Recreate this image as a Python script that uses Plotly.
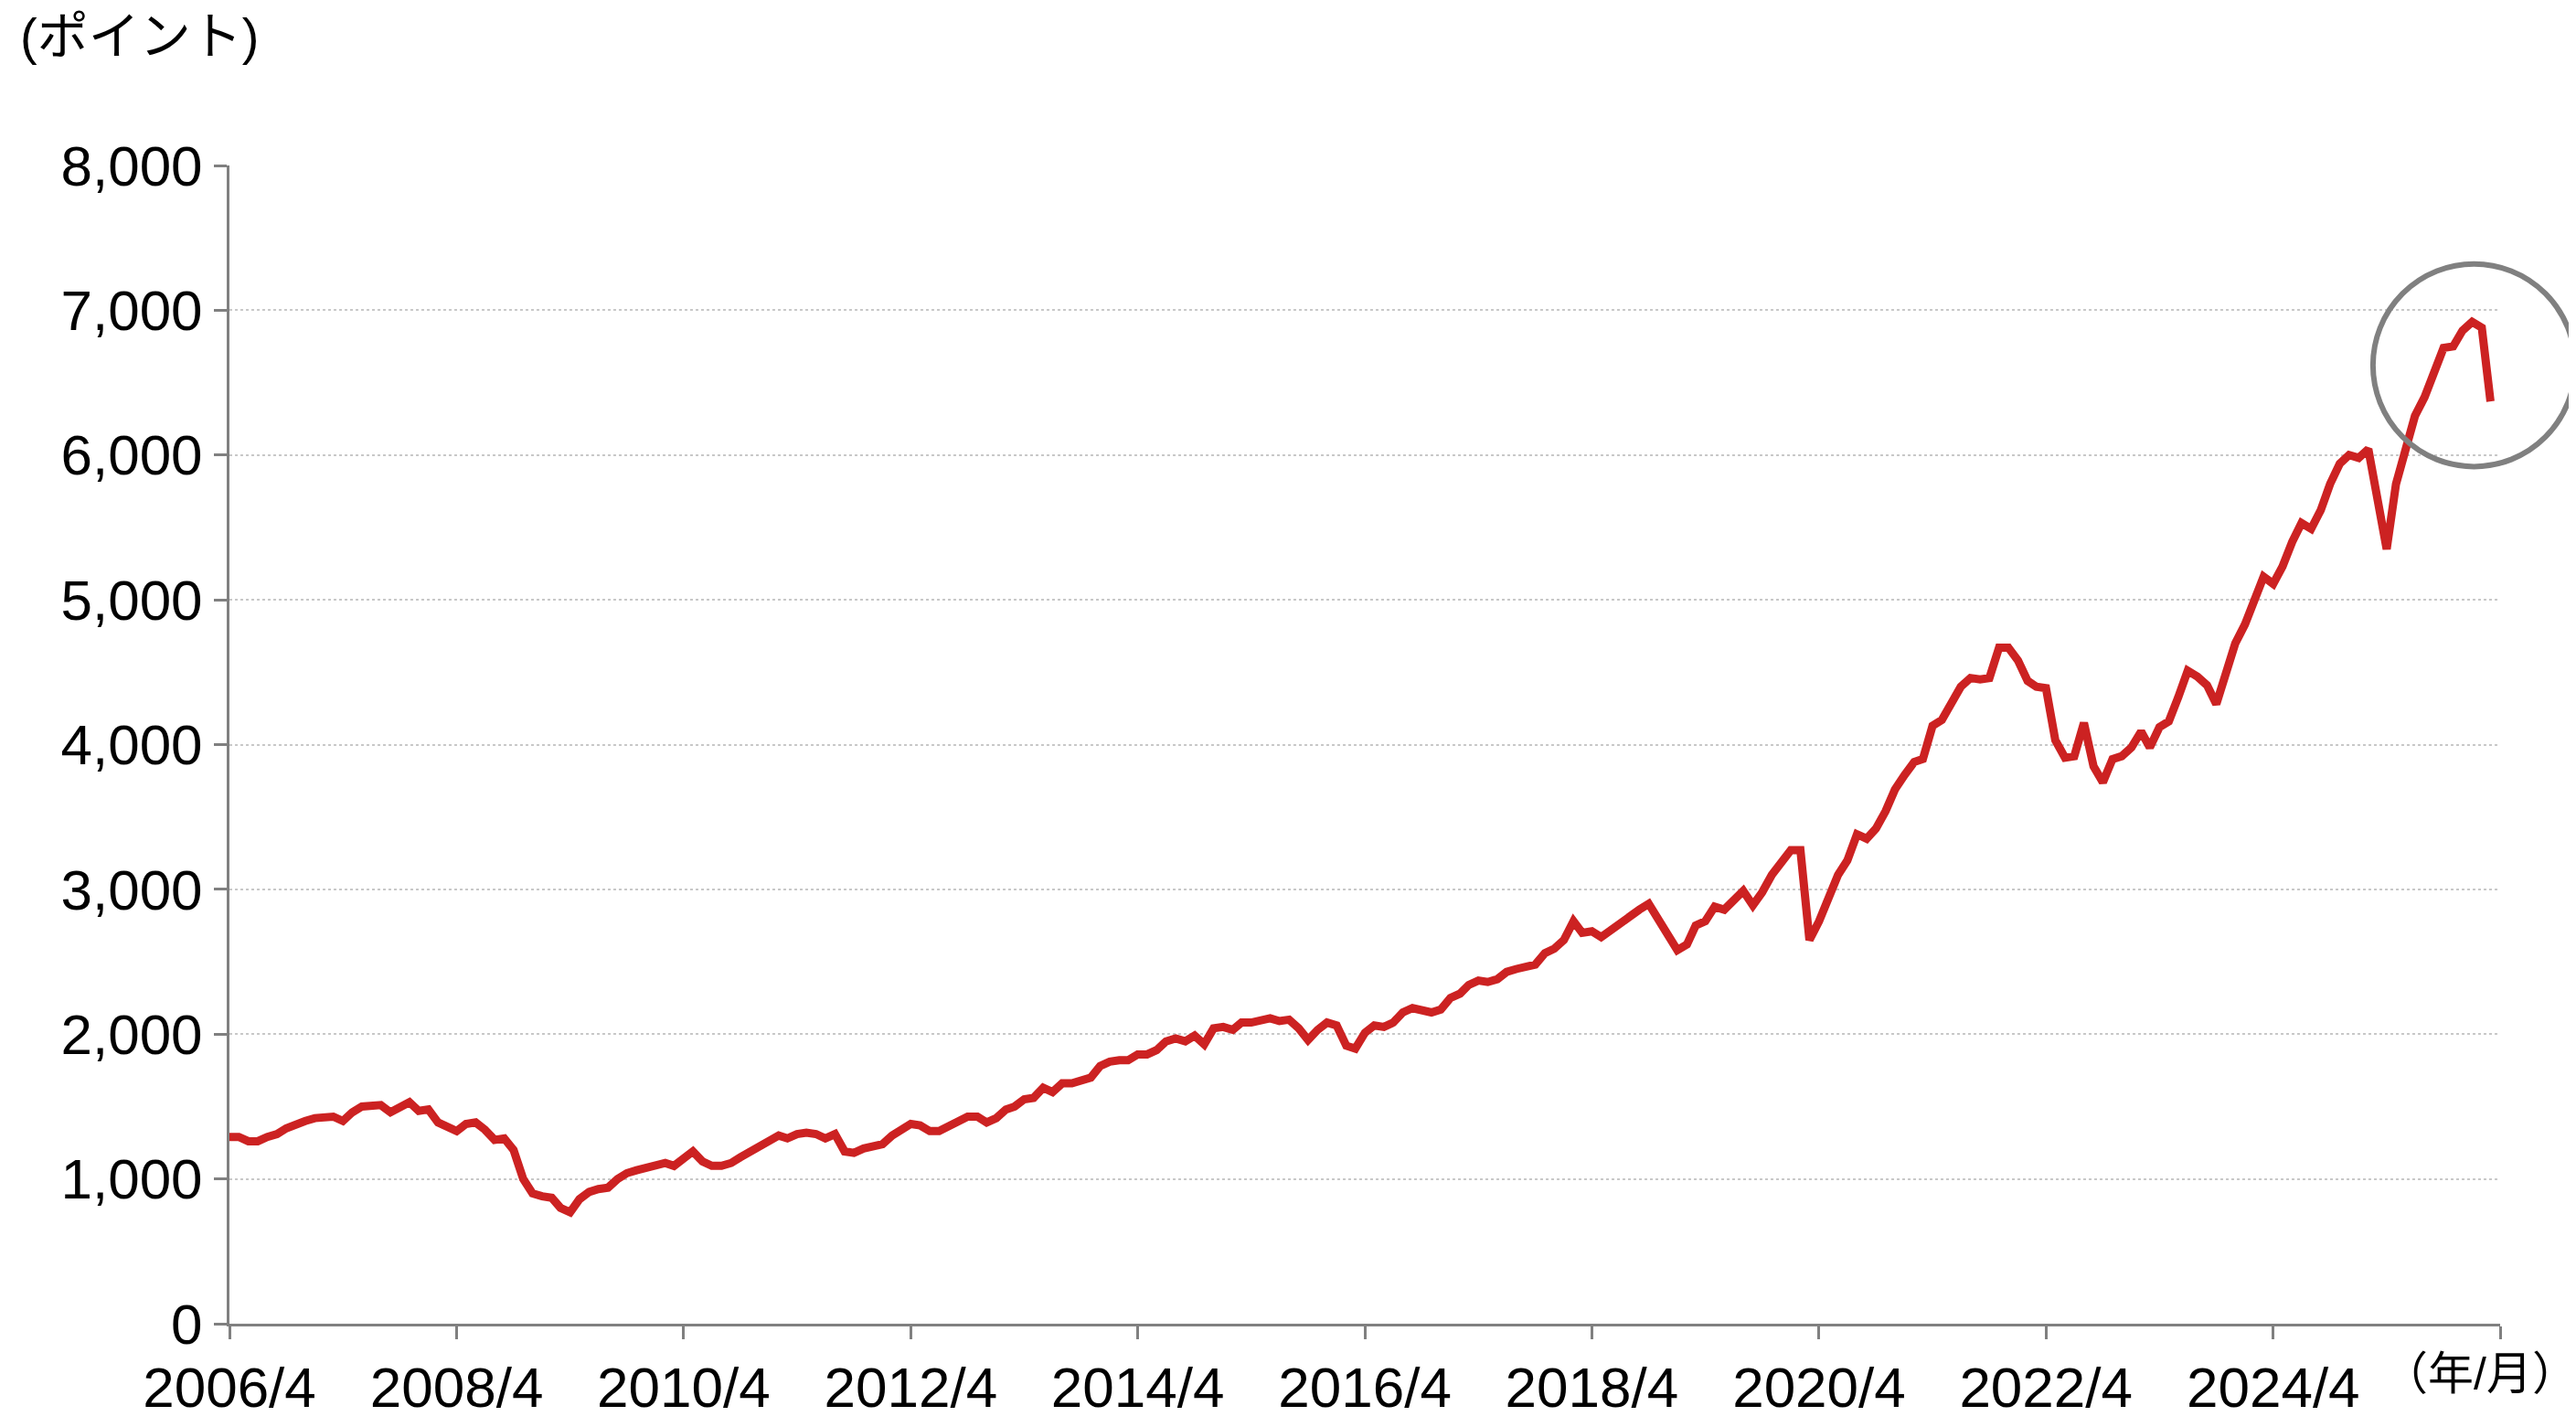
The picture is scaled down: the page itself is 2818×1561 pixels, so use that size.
import plotly.graph_objects as go
import pandas as pd

start = "2006-04-01"
values = [
1290,1290,1260,1260,1290,1310,1350,1380,1400,1420,1420,1430,
1400,1460,1500,1510,1510,1460,1500,1530,1470,1480,1390,1360,
1330,1380,1390,1340,1270,1280,1200,1000,900,880,870,800,
770,860,910,930,940,1000,1040,1060,1080,1100,1110,1090,
1150,1190,1120,1090,1090,1110,1150,1190,1220,1260,1300,1280,
1310,1320,1310,1280,1310,1190,1180,1210,1220,1240,1300,1340,
1380,1370,1330,1330,1360,1400,1430,1430,1390,1420,1480,1500,
1550,1560,1630,1600,1660,1660,1680,1700,1780,1810,1820,1820,
1860,1860,1890,1950,1970,1950,1990,1930,2040,2050,2030,2080,
2080,2090,2110,2090,2100,2040,1960,2030,2080,2060,1920,1900,
2010,2060,2050,2080,2150,2180,2160,2150,2170,2250,2280,2340,
2370,2360,2380,2430,2450,2460,2480,2560,2590,2650,2780,2700,
2710,2670,2720,2770,2810,2860,2900,2790,2700,2580,2620,2750,
2780,2880,2860,2920,2990,2890,2980,3100,3180,3270,3270,2650,
2780,2940,3100,3200,3380,3350,3420,3540,3690,3790,3880,3900,
4130,4170,4280,4400,4460,4450,4460,4670,4670,4580,4440,4400,
4390,4030,3910,3920,4150,3850,3740,3900,3920,3980,4090,3980,
4120,4160,4330,4510,4470,4410,4280,4480,4700,4830,5000,5160,
5110,5230,5400,5530,5490,5620,5800,5940,6000,5980,6040,5720,
5350,5800,6030,6270,6400,6570,6740,6750,6860,6920,6880,6370,
]
dates = pd.date_range(start, periods=len(values), freq="MS")
tick_dates = pd.date_range("2006-04-01", "2026-04-01", freq="24MS")
tick_labels = [f"{d.year}/{d.month}" for d in tick_dates][:-1] + [""]

font = "Arial, Liberation Sans, Noto Sans CJK JP"
fig = go.Figure()
fig.add_trace(go.Scatter(x=dates, y=values, mode="lines",
                         line=dict(color="#CC2222", width=9), showlegend=False))
fig.add_shape(type="circle", xref="paper", yref="paper",
              x0=0.944, x1=1.033, y0=0.74, y1=0.915,
              line=dict(color="#808080", width=6))
fig.update_layout(
    width=2818, height=1561, plot_bgcolor="white", paper_bgcolor="white",
    margin=dict(l=243, r=91, t=173, b=121),
    font=dict(family=font, size=62, color="black"),
    annotations=[
        dict(text="(ポイント)", xref="paper", yref="paper", x=-0.093, y=1.085,
             xanchor="left", yanchor="bottom", showarrow=False, font=dict(size=56)),
        dict(text="（年/月）", xref="paper", yref="paper", x=1.035, y=-0.02,
             xanchor="right", yanchor="top", showarrow=False, font=dict(size=50)),
    ],
)
fig.update_xaxes(range=[dates[0], pd.Timestamp("2026-04-01")], tickvals=tick_dates,
                 ticktext=tick_labels, showgrid=False, showline=True,
                 linecolor="#808080", linewidth=3, ticks="outside", ticklen=14,
                 tickcolor="#808080", tickwidth=3)
fig.update_yaxes(range=[0, 8000], dtick=1000, tickformat=",", showgrid=True,
                 gridcolor="#C8C8C8", griddash="dot", gridwidth=2,
                 showline=True, linecolor="#808080", linewidth=3, ticks="outside",
                 ticklen=14, tickcolor="#808080", tickwidth=3, zeroline=False)
fig.write_html("out.html")
